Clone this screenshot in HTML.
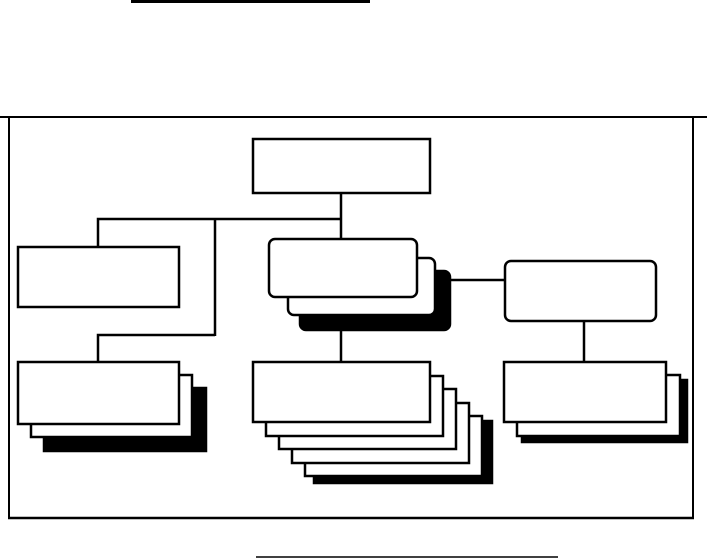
<!DOCTYPE html>
<html><head><meta charset="utf-8"><style>
html,body{margin:0;padding:0;background:#fff;width:707px;height:559px;overflow:hidden}
svg{display:block}
</style></head><body>
<svg width="707" height="559" viewBox="0 0 707 559" xmlns="http://www.w3.org/2000/svg">
<g fill="none" stroke="#000">
<line x1="131" y1="1.5" x2="370" y2="1.5" stroke-width="3"/>
<line x1="256" y1="557" x2="558" y2="557" stroke-width="1.5"/>
<line x1="0" y1="117" x2="707" y2="117" stroke-width="2"/>
<line x1="9" y1="116" x2="9" y2="518" stroke-width="2"/>
<line x1="693" y1="116" x2="693" y2="518" stroke-width="2"/>
<line x1="8" y1="518" x2="694" y2="518" stroke-width="2.5"/>
<g stroke-width="2.5">
<line x1="341" y1="193" x2="341" y2="239"/>
<polyline points="98,247 98,219 341,219"/>
<line x1="215" y1="219" x2="215" y2="336"/>
<polyline points="98,362 98,335 215,335"/>
<line x1="341" y1="330" x2="341" y2="362"/>
<line x1="450" y1="280" x2="505" y2="280"/>
<line x1="584" y1="322" x2="584" y2="362"/>
</g>
</g>
<g stroke="#000" stroke-width="2.5">
<rect x="253" y="139" width="177" height="54" fill="#fff"/>
<rect x="18" y="247" width="161" height="60" fill="#fff"/>
<!-- middle rounded stack -->
<rect x="300" y="271" width="150" height="59" rx="6" fill="#000"/>
<rect x="288" y="258" width="147" height="57" rx="6" fill="#fff"/>
<rect x="269" y="239" width="148" height="58" rx="6" fill="#fff"/>
<rect x="505" y="261" width="151" height="60" rx="6" fill="#fff"/>
<!-- bottom left -->
<rect x="44" y="388" width="162" height="63" fill="#000"/>
<rect x="31" y="375" width="161" height="62" fill="#fff"/>
<rect x="18" y="362" width="161" height="62" fill="#fff"/>
<!-- bottom middle -->
<rect x="314" y="421" width="178" height="62" fill="#000"/>
<rect x="305" y="416" width="177" height="60" fill="#fff"/>
<rect x="292" y="403" width="177" height="60" fill="#fff"/>
<rect x="279" y="389" width="177" height="60" fill="#fff"/>
<rect x="266" y="376" width="177" height="60" fill="#fff"/>
<rect x="253" y="362" width="177" height="60" fill="#fff"/>
<!-- bottom right -->
<rect x="522" y="380" width="165" height="62" fill="#000"/>
<rect x="517" y="375" width="163" height="61" fill="#fff"/>
<rect x="504" y="362" width="162" height="60" fill="#fff"/>
</g>
</svg>
</body></html>
